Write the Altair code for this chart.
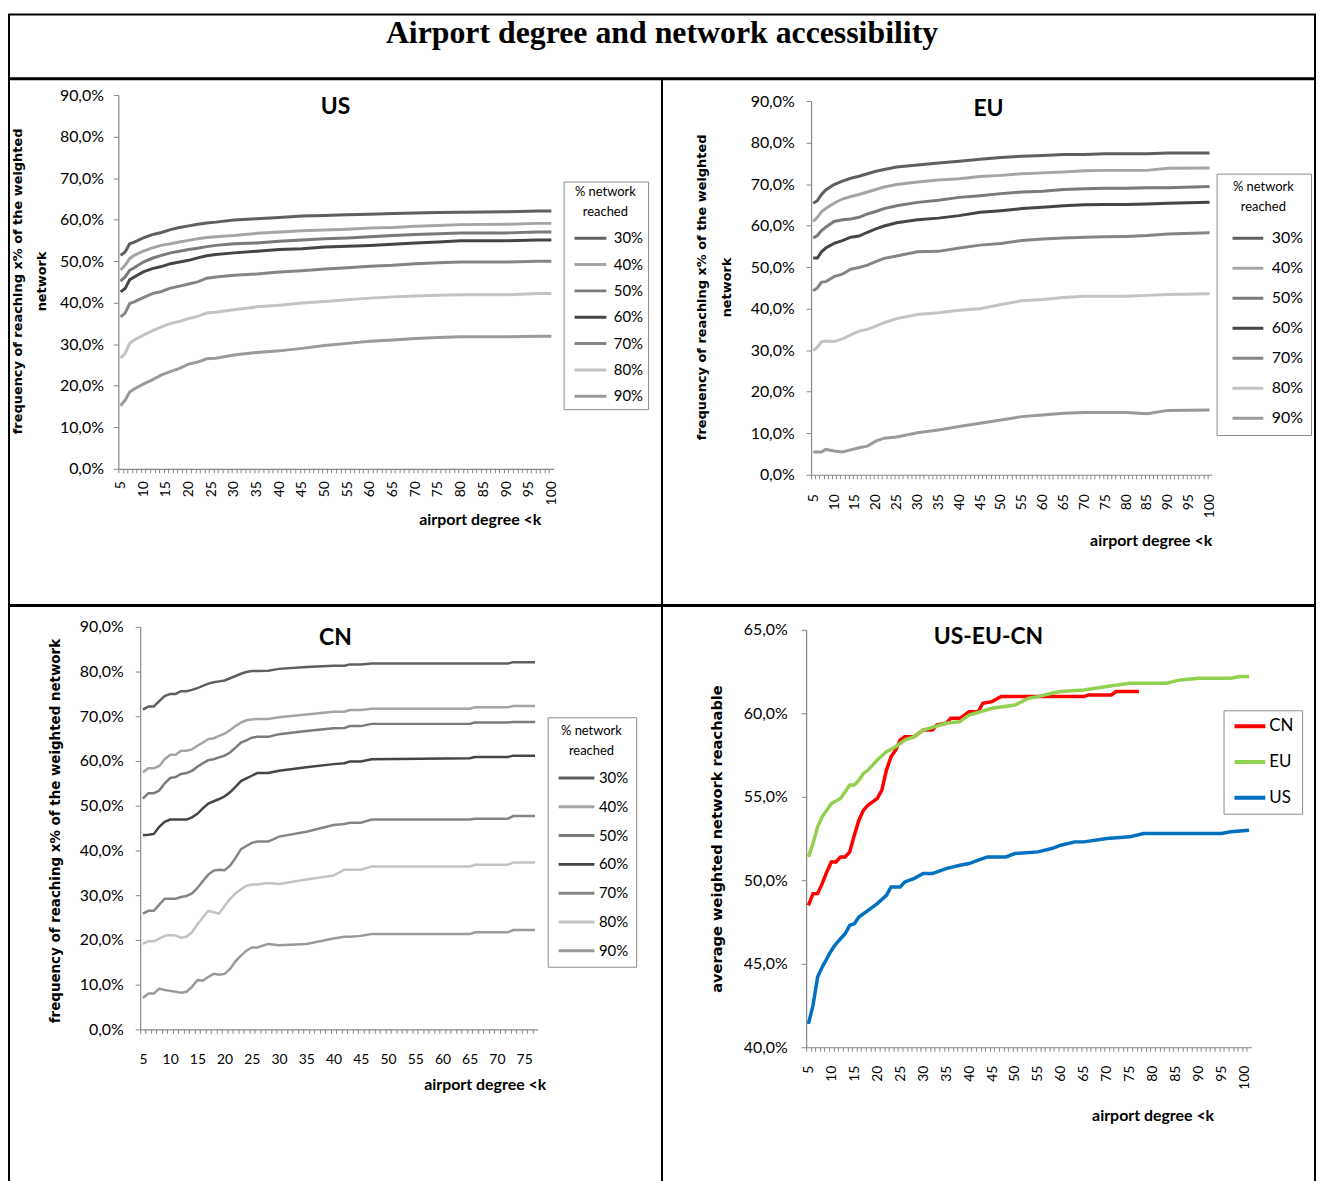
import altair as alt
import pandas as pd

TITLE = "Airport degree and network accessibility"
LEVELS = ["30%", "40%", "50%", "60%", "70%", "80%", "90%"]
GRAYS = ["#5f5f5f", "#a5a5a5", "#7a7a7a", "#454545", "#858585", "#c3c3c3", "#9a9a9a"]
ALL_NAMES = ["CN", "EU", "US"]
ALL_COLORS = ["#ff0000", "#92d050", "#0070c0"]

# ---------------- US ----------------
US_X = [5, 6, 7, 8, 10, 12, 14, 16, 18, 20, 22, 24, 26, 30, 35, 40, 45, 50, 55, 60, 65, 70, 75, 80, 90, 97, 100]
US_30 = [51.4, 52.2, 54.2, 54.6, 55.6, 56.4, 56.9, 57.6, 58.1, 58.5, 58.9, 59.2, 59.4, 59.9, 60.2, 60.5, 60.9, 61.0, 61.2, 61.3, 61.5, 61.6, 61.7, 61.8, 61.9, 62.1, 62.1]
US_40 = [47.9, 49.0, 50.6, 51.4, 52.4, 53.2, 53.8, 54.2, 54.6, 55.0, 55.4, 55.7, 55.9, 56.2, 56.7, 57.0, 57.3, 57.5, 57.7, 58.0, 58.1, 58.4, 58.6, 58.8, 58.9, 59.1, 59.1]
US_50 = [45.2, 46.2, 47.8, 48.4, 49.8, 50.7, 51.4, 52.0, 52.4, 52.8, 53.1, 53.5, 53.8, 54.2, 54.4, 54.8, 55.1, 55.4, 55.6, 55.9, 56.2, 56.4, 56.6, 56.8, 56.8, 57.0, 57.0]
US_60 = [42.6, 43.4, 45.5, 46.2, 47.4, 48.2, 48.7, 49.4, 49.8, 50.2, 50.8, 51.3, 51.6, 52.0, 52.4, 52.8, 53.0, 53.4, 53.6, 53.8, 54.1, 54.4, 54.6, 54.9, 54.9, 55.1, 55.1]
US_70 = [36.6, 37.5, 39.8, 40.2, 41.2, 42.2, 42.7, 43.5, 44.0, 44.5, 45.0, 45.9, 46.2, 46.6, 46.9, 47.4, 47.7, 48.1, 48.4, 48.8, 49.0, 49.4, 49.6, 49.8, 49.8, 50.0, 50.0]
US_80 = [26.6, 27.8, 30.2, 31.0, 32.2, 33.2, 34.2, 35.0, 35.5, 36.2, 36.7, 37.5, 37.7, 38.3, 39.0, 39.4, 39.9, 40.3, 40.7, 41.1, 41.4, 41.6, 41.8, 41.9, 41.9, 42.2, 42.2]
US_90 = [15.2, 16.5, 18.5, 19.2, 20.4, 21.4, 22.6, 23.4, 24.2, 25.2, 25.7, 26.5, 26.6, 27.4, 28.0, 28.4, 29.0, 29.7, 30.2, 30.7, 31.0, 31.4, 31.6, 31.8, 31.8, 31.9, 31.9]

# ---------------- EU ----------------
EU_X = [5, 6, 7, 8, 10, 12, 14, 16, 18, 20, 22, 25, 30, 35, 40, 45, 50, 55, 60, 65, 70, 75, 80, 85, 90, 100]
EU_30 = [65.4, 66.0, 67.5, 68.6, 69.9, 70.7, 71.4, 71.9, 72.5, 73.1, 73.5, 74.1, 74.6, 75.1, 75.5, 76.0, 76.4, 76.7, 76.9, 77.1, 77.1, 77.3, 77.3, 77.3, 77.5, 77.5]
EU_40 = [61.0, 62.0, 63.3, 64.1, 65.4, 66.4, 67.0, 67.5, 68.1, 68.7, 69.3, 69.9, 70.5, 71.0, 71.3, 71.8, 72.1, 72.5, 72.7, 72.9, 73.2, 73.3, 73.3, 73.3, 73.8, 73.9]
EU_50 = [57.0, 57.6, 58.8, 59.6, 61.0, 61.4, 61.6, 62.0, 62.8, 63.4, 64.1, 64.8, 65.6, 66.1, 66.8, 67.2, 67.7, 68.1, 68.3, 68.7, 68.9, 69.0, 69.0, 69.1, 69.1, 69.4]
EU_60 = [52.2, 52.2, 53.7, 54.6, 55.7, 56.4, 57.2, 57.5, 58.4, 59.2, 59.9, 60.7, 61.4, 61.8, 62.4, 63.2, 63.6, 64.1, 64.4, 64.8, 65.0, 65.1, 65.1, 65.2, 65.4, 65.6]
EU_70 = [44.3, 45.0, 46.4, 46.5, 47.7, 48.3, 49.5, 49.9, 50.5, 51.3, 52.1, 52.7, 53.7, 53.8, 54.6, 55.3, 55.7, 56.4, 56.8, 57.0, 57.2, 57.3, 57.4, 57.6, 58.0, 58.3]
EU_80 = [29.9, 30.7, 32.0, 32.2, 32.1, 32.7, 33.7, 34.6, 35.0, 35.8, 36.6, 37.6, 38.6, 39.0, 39.6, 40.0, 41.0, 41.9, 42.2, 42.7, 43.0, 43.0, 43.0, 43.2, 43.4, 43.6]
EU_90 = [5.5, 5.5, 5.5, 6.1, 5.7, 5.5, 6.0, 6.5, 6.9, 8.1, 8.8, 9.1, 10.1, 10.8, 11.6, 12.4, 13.2, 14.0, 14.4, 14.8, 15.0, 15.0, 15.0, 14.7, 15.5, 15.6]

# ---------------- CN ----------------
CN_X = [5, 6, 7, 8, 9, 10, 11, 12, 13, 14, 15, 16, 17, 18, 19, 20, 21, 22, 23, 24, 25, 26, 28, 30, 35, 40, 42, 43, 45, 47, 65, 66, 72, 73, 77]
CN_30 = [71.5, 72.2, 72.2, 73.4, 74.5, 75.0, 75.0, 75.6, 75.6, 75.9, 76.3, 76.8, 77.3, 77.6, 77.8, 78.0, 78.5, 79.0, 79.5, 79.9, 80.1, 80.1, 80.2, 80.6, 81.0, 81.3, 81.3, 81.6, 81.6, 81.8, 81.8, 81.8, 81.8, 82.1, 82.1]
CN_40 = [57.5, 58.4, 58.4, 58.9, 60.4, 61.4, 61.4, 62.3, 62.3, 62.6, 63.4, 64.1, 64.9, 65.1, 65.6, 66.1, 66.9, 67.8, 68.6, 69.1, 69.3, 69.4, 69.4, 69.8, 70.4, 71.0, 71.0, 71.4, 71.4, 71.7, 71.7, 72.0, 72.0, 72.3, 72.3]
CN_50 = [51.6, 52.8, 52.8, 53.4, 55.0, 56.2, 56.4, 57.1, 57.3, 57.8, 58.7, 59.5, 60.2, 60.4, 60.8, 61.2, 61.9, 63.0, 64.1, 64.6, 65.2, 65.4, 65.4, 66.0, 66.7, 67.3, 67.4, 67.8, 67.8, 68.3, 68.3, 68.6, 68.6, 68.7, 68.7]
CN_60 = [43.4, 43.5, 43.7, 45.3, 46.4, 46.9, 46.9, 46.9, 46.9, 47.4, 48.2, 49.4, 50.5, 51.0, 51.5, 52.1, 53.0, 54.2, 55.5, 56.1, 56.7, 57.3, 57.3, 57.8, 58.6, 59.3, 59.5, 59.9, 59.9, 60.4, 60.6, 60.9, 60.9, 61.2, 61.2]
CN_70 = [25.9, 26.5, 26.5, 27.9, 29.2, 29.2, 29.2, 29.6, 29.8, 30.4, 31.6, 33.1, 34.6, 35.5, 35.7, 35.6, 36.6, 38.3, 40.3, 41.0, 41.7, 42.0, 42.0, 43.1, 44.2, 45.7, 45.9, 46.2, 46.2, 46.9, 46.9, 47.1, 47.1, 47.7, 47.7]
CN_80 = [19.1, 19.7, 19.7, 20.3, 20.9, 21.1, 21.0, 20.5, 20.7, 21.7, 23.5, 25.0, 26.5, 26.2, 25.9, 27.6, 29.2, 30.4, 31.3, 32.1, 32.4, 32.4, 32.7, 32.5, 33.5, 34.4, 35.7, 35.7, 35.7, 36.4, 36.4, 36.8, 36.8, 37.3, 37.3]
CN_90 = [7.0, 8.0, 8.0, 9.1, 8.8, 8.6, 8.4, 8.2, 8.4, 9.5, 11.0, 10.9, 11.7, 12.4, 12.2, 12.4, 13.5, 15.2, 16.5, 17.6, 18.3, 18.3, 19.1, 18.8, 19.1, 20.3, 20.7, 20.7, 20.9, 21.3, 21.3, 21.7, 21.7, 22.2, 22.2]

# ---------------- US-EU-CN ----------------
ALL_CN_X = [5, 6, 7, 8, 9, 10, 11, 12, 13, 14, 15, 16, 17, 18, 19, 20, 21, 22, 23, 24, 25, 26, 28, 30, 32, 33, 35, 36, 38, 40, 42, 43, 45, 47, 65, 66, 71, 72, 77]
ALL_CN = [48.5, 49.2, 49.2, 49.8, 50.5, 51.1, 51.1, 51.4, 51.4, 51.7, 52.7, 53.6, 54.2, 54.5, 54.7, 54.9, 55.4, 56.6, 57.4, 57.8, 58.4, 58.6, 58.6, 59.0, 59.0, 59.3, 59.4, 59.7, 59.7, 60.1, 60.1, 60.6, 60.7, 61.0, 61.0, 61.1, 61.1, 61.3, 61.3]
ALL_EU_X = [5, 6, 7, 8, 9, 10, 12, 13, 14, 15, 16, 17, 18, 20, 22, 24, 26, 28, 30, 35, 38, 40, 45, 50, 53, 55, 58, 60, 65, 70, 75, 80, 83, 86, 90, 97, 99, 101]
ALL_EU = [51.4, 52.2, 53.2, 53.8, 54.2, 54.6, 54.9, 55.3, 55.7, 55.7, 56.0, 56.4, 56.6, 57.2, 57.7, 58.0, 58.4, 58.6, 59.0, 59.4, 59.5, 59.9, 60.3, 60.5, 60.9, 61.0, 61.2, 61.3, 61.4, 61.6, 61.8, 61.8, 61.8, 62.0, 62.1, 62.1, 62.2, 62.2]
ALL_US_X = [5, 6, 7, 8, 9, 10, 11, 12, 13, 14, 15, 16, 18, 20, 22, 23, 25, 26, 28, 30, 32, 35, 38, 40, 42, 44, 48, 50, 55, 58, 60, 63, 65, 70, 75, 78, 95, 97, 101]
ALL_US = [41.4, 42.5, 44.2, 44.8, 45.3, 45.8, 46.2, 46.5, 46.8, 47.3, 47.4, 47.8, 48.2, 48.6, 49.1, 49.6, 49.6, 49.9, 50.1, 50.4, 50.4, 50.7, 50.9, 51.0, 51.2, 51.4, 51.4, 51.6, 51.7, 51.9, 52.1, 52.3, 52.3, 52.5, 52.6, 52.8, 52.8, 52.9, 53.0]

X_TITLE = "airport degree <k"
Y_TITLE_2L = ["frequency of reaching  x% of the weighted", "network"]
Y_TITLE_CN = "frequency of reaching  x% of the weighted network"
Y_TITLE_ALL = "average  weighted network reachable"


def long_df(series):
    rows = []
    for name, xs, ys in series:
        for x, y in zip(xs, ys):
            rows.append({"x": x, "y": y, "s": name})
    return pd.DataFrame(rows)


CELL_W = 657
TOP_H = 529
BOT_H = 580
AXC = "#868686"
PCT = "replace(format(datum.value, '.1f'), '.', ',') + '%'"
XLAB = "datum.value % 5 == 0 ? '' + datum.value : ''"
FRAME = alt.ViewBackground(stroke="black", strokeWidth=2)


def panel(df, cdom, crng, cell_h, xdom, xr, ydom, yr, yticks, xticks, angle,
          xpad, ypad, xt_x, xt_y, ytitle, yt_x, yt_y, yt_size, yt_lh,
          legend, title, title_dy, sw):
    catw = (xr[1] - xr[0]) / (xdom[1] - xdom[0])
    x_axis = alt.Axis(
        values=xticks, labelExpr=XLAB, labelAngle=angle, labelFont="Lato",
        labelFontSize=14, labelColor="black", labelPadding=xpad,
        labelOverlap=False, labelFlush=False, tickSize=4, tickColor=AXC,
        domainColor=AXC, domainWidth=1.2, tickOffset=-catw / 2, labelOffset=catw / 2,
        offset=-(cell_h - yr[0]), grid=False, title=X_TITLE, titleFont="Lato",
        titleFontSize=16, titleFontWeight="bold", titleColor="black",
        titleAlign="right", titleBaseline="middle", titleX=xt_x, titleY=xt_y)
    y_axis = alt.Axis(
        values=yticks, labelExpr=PCT, labelFont="Lato", labelFontSize=16,
        labelColor="black", labelPadding=ypad, tickSize=5, tickColor=AXC,
        domainColor=AXC, domainWidth=1.2, offset=-xr[0], grid=False, title=ytitle,
        titleFont="DejaVu Sans", titleFontSize=yt_size, titleFontWeight="bold",
        titleColor="black", titleAngle=270, titleAlign="center",
        titleBaseline="top", titleX=yt_x, titleY=yt_y, titleLineHeight=yt_lh)
    return alt.Chart(df).mark_line(strokeWidth=sw).encode(
        x=alt.X("x:Q", scale=alt.Scale(domain=xdom, range=xr, nice=False, zero=False), axis=x_axis),
        y=alt.Y("y:Q", scale=alt.Scale(domain=ydom, range=yr, nice=False, zero=False), axis=y_axis),
        color=alt.Color("s:N", scale=alt.Scale(domain=cdom, range=crng), legend=legend),
    ).properties(
        width=CELL_W, height=cell_h, view=FRAME,
        title=alt.TitleParams(text=title, font="Lato", fontSize=23, fontWeight="bold",
                              color="black", anchor="middle", frame="group",
                              orient="top", offset=0, baseline="middle", dy=title_dy),
    )


def gray_legend(lx, ly, pad, tpad, rpad, ssize, soff, loff, lsize):
    return alt.Legend(
        orient="none", legendX=lx, legendY=ly, title=["% network", "reached"],
        titleFont="Lato", titleFontSize=13, titleFontWeight="normal",
        titleColor="black", titleAnchor="middle", titleAlign="center",
        titleLineHeight=20, titlePadding=tpad, labelFont="Lato",
        labelFontSize=lsize, labelColor="black", symbolType="stroke",
        symbolSize=ssize, symbolStrokeWidth=3, clipHeight=16, rowPadding=rpad,
        symbolOffset=soff, labelOffset=loff, padding=pad,
        strokeColor="#8c8c8c", fillColor="white")


us_df = long_df(list(zip(LEVELS, [US_X] * 7, [US_30, US_40, US_50, US_60, US_70, US_80, US_90])))
eu_df = long_df(list(zip(LEVELS, [EU_X] * 7, [EU_30, EU_40, EU_50, EU_60, EU_70, EU_80, EU_90])))
cn_df = long_df(list(zip(LEVELS, [CN_X] * 7, [CN_30, CN_40, CN_50, CN_60, CN_70, CN_80, CN_90])))
all_df = long_df([("CN", ALL_CN_X, ALL_CN), ("EU", ALL_EU_X, ALL_EU), ("US", ALL_US_X, ALL_US)])

TEN = list(range(0, 91, 10))

us = panel(us_df, LEVELS, GRAYS, TOP_H, [4.5, 100.5], [110, 548], [0, 90], [392, 16], TEN,
           list(range(5, 102)), 270, 8, 10, 535, 51, Y_TITLE_2L, -107, 203, 13, 24,
           gray_legend(558, 103, 5, 11, 10.5, 1024, 4.5, 6, 15), "US", 51, 3)
eu = panel(eu_df, LEVELS, GRAYS, TOP_H, [4.5, 100.5], [150, 553], [0, 90], [398, 22], TEN,
           list(range(5, 102)), 270, 15, 12, 553, 66, Y_TITLE_2L, -116, 209, 13, 25,
           gray_legend(558, 95, 8, 16, 14.2, 961, 6.5, 7, 16), "EU", 53, 3)
cn = panel(cn_df, LEVELS, GRAYS, BOT_H, [4.5, 77.5], [132, 532], [0, 90], [426, 21], TEN,
           list(range(5, 79)), 0, 19, 12, 540, 56, Y_TITLE_CN, -92, 226, 13.5, 20,
           gray_legend(542, 112, 8, 12, 13, 1296, 1.5, 3, 15), "CN", 55, 2.5)
all_legend = alt.Legend(
    orient="none", legendX=565, legendY=105, title=None, labelFont="Lato",
    labelFontSize=17, labelColor="black", symbolType="stroke", symbolSize=961,
    symbolStrokeWidth=4, clipHeight=16, rowPadding=19, symbolOffset=1,
    labelOffset=2, padding=8, strokeColor="#8c8c8c", fillColor="white")
al = panel(all_df, ALL_NAMES, ALL_COLORS, BOT_H, [4.5, 101.5], [145, 593], [40, 65], [444, 24],
           list(range(40, 66, 5)), list(range(5, 103)), 270, 14, 14, 555, 69, Y_TITLE_ALL,
           -97, 234, 14.7, 20, all_legend, "US-EU-CN", 54, 3.5)

head = alt.Chart(pd.DataFrame({"t": [TITLE]})).mark_text(
    font="Liberation Serif", fontSize=32, fontWeight="bold", color="black", dy=-13
).encode(
    text="t:N",
    x=alt.datum(0.5, type="quantitative", scale=alt.Scale(domain=[0, 1], nice=False, zero=False), axis=None),
    y=alt.datum(0.5, type="quantitative", scale=alt.Scale(domain=[0, 1], nice=False, zero=False), axis=None),
).properties(width=2 * CELL_W, height=64, view=FRAME)

row1 = alt.hconcat(us, eu, spacing=0, bounds="flush").resolve_scale(
    x="independent", y="independent", color="independent").resolve_legend(color="independent")
row2 = alt.hconcat(cn, al, spacing=0, bounds="flush").resolve_scale(
    x="independent", y="independent", color="independent").resolve_legend(color="independent")

chart = alt.vconcat(head, row1, row2, spacing=-2).resolve_scale(
    x="independent", y="independent", color="independent"
).resolve_legend(color="independent").properties(
    padding={"left": 0, "top": 2, "right": 0, "bottom": 0}
).configure_view(stroke="black", strokeWidth=2)

chart.save("out.html", embed_options={"renderer": "svg", "actions": False})
